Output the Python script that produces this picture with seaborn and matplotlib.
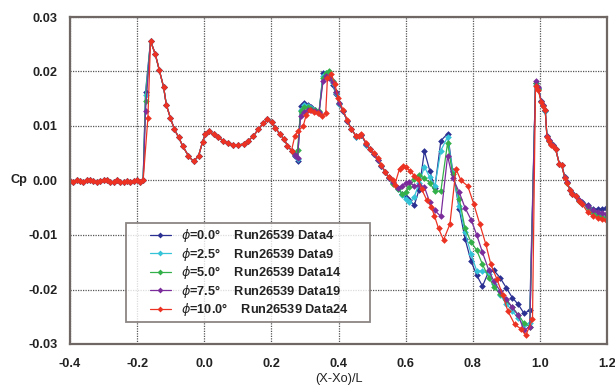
import matplotlib
matplotlib.use("Agg")
import matplotlib.pyplot as plt
import seaborn as sns
import pandas as pd
from matplotlib.lines import Line2D
from matplotlib.legend_handler import HandlerTuple
from matplotlib.ticker import FormatStrFormatter

# ---------------- data ----------------
series = [r"$\phi$=0.0°    Run26539 Data4",
          r"$\phi$=2.5°    Run26539 Data9",
          r"$\phi$=5.0°    Run26539 Data14",
          r"$\phi$=7.5°    Run26539 Data19",
          r"$\phi$=10.0°    Run26539 Data24"]
colors = ["#2b3192", "#35c3d8", "#33b04a", "#7b2d9b", "#ec3323"]

# flat front part (shared)
front_x = [-0.400, -0.390, -0.380, -0.370, -0.360, -0.350, -0.340, -0.330, -0.320, -0.310,
           -0.300, -0.290, -0.280, -0.270, -0.260, -0.250, -0.240, -0.230, -0.220, -0.210,
           -0.200, -0.190, -0.182]
front_y = [-0.0001, -0.0002, 0.0000, -0.0001, -0.0003, 0.0000, 0.0001, -0.0001, -0.0003, -0.0001,
           0.0001, 0.0000, -0.0002, -0.0002, 0.0001, -0.0003, -0.0002, -0.0001, -0.0002, -0.0001,
           0.0001, -0.0003, 0.0001]

# first point on the rise (per series)
rise_x = [-0.175, -0.175, -0.175, -0.175, -0.168]
rise_y = [0.0162, 0.0156, 0.0145, 0.0128, 0.0114]

# shared body
body_x = [-0.160, -0.146, -0.134, -0.121, -0.113, -0.101, -0.089, -0.076, -0.064, -0.047,
          -0.032, -0.017, -0.005, 0.003, 0.013, 0.028, 0.042, 0.057, 0.072, 0.087,
          0.102, 0.117, 0.131, 0.146, 0.161, 0.176, 0.188, 0.201, 0.212, 0.225,
          0.238, 0.248, 0.260]
body_y = [0.0256, 0.0232, 0.0203, 0.0171, 0.0139, 0.0115, 0.0094, 0.0079, 0.0063, 0.0045,
          0.0035, 0.0045, 0.0071, 0.0085, 0.0090, 0.0085, 0.0079, 0.0073, 0.0068, 0.0065,
          0.0065, 0.0067, 0.0073, 0.0081, 0.0094, 0.0105, 0.0112, 0.0107, 0.0097, 0.0085,
          0.0076, 0.0064, 0.0055]

# middle part, phi = 0 / 2.5 / 5 / 7.5 share x positions
mid_x = [0.270, 0.278, 0.287, 0.298, 0.308, 0.318, 0.330, 0.342, 0.354, 0.363,
         0.372, 0.383, 0.392, 0.402, 0.413, 0.426, 0.438, 0.453, 0.468, 0.483,
         0.493, 0.505, 0.517, 0.528, 0.539, 0.550, 0.562, 0.577, 0.590, 0.600,
         0.611, 0.626, 0.640, 0.656, 0.672, 0.687, 0.705, 0.725, 0.740, 0.760,
         0.777, 0.795, 0.812, 0.829, 0.848, 0.863, 0.881, 0.900, 0.918, 0.935,
         0.953, 0.970]
mid_y_0 = [0.0045, 0.0036, 0.0136, 0.0142, 0.0138, 0.0134, 0.0130, 0.0124, 0.0198, 0.0194,
           0.0190, 0.0176, 0.0158, 0.0140, 0.0128, 0.0110, 0.0095, 0.0080, 0.0084, 0.0066,
           0.0057, 0.0048, 0.0038, 0.0027, 0.0016, 0.0006, -0.0004, -0.0013, -0.0025, -0.0030,
           -0.0036, -0.0045, -0.0017, 0.0054, 0.0018, -0.0014, 0.0073, 0.0086, 0.0018, -0.0053,
           -0.0107, -0.0148, -0.0174, -0.0194, -0.0166, -0.0165, -0.0178, -0.0197, -0.0215, -0.0227,
           -0.0244, -0.0238]
mid_y_25 = [0.0046, 0.0039, 0.0130, 0.0139, 0.0136, 0.0133, 0.0130, 0.0125, 0.0192, 0.0197,
            0.0194, 0.0178, 0.0160, 0.0141, 0.0128, 0.0110, 0.0095, 0.0080, 0.0084, 0.0066,
            0.0057, 0.0048, 0.0038, 0.0027, 0.0016, 0.0005, -0.0005, -0.0015, -0.0027, -0.0034,
            -0.0040, -0.0030, -0.0005, 0.0025, 0.0006, -0.0010, 0.0055, 0.0080, 0.0016, -0.0047,
            -0.0095, -0.0135, -0.0166, -0.0166, -0.0172, -0.0190, -0.0210, -0.0226, -0.0240, -0.0252,
            -0.0266, -0.0262]
mid_y_5 = [0.0048, 0.0056, 0.0128, 0.0134, 0.0134, 0.0132, 0.0130, 0.0127, 0.0188, 0.0198,
           0.0200, 0.0182, 0.0162, 0.0142, 0.0128, 0.0110, 0.0095, 0.0081, 0.0084, 0.0067,
           0.0057, 0.0048, 0.0038, 0.0027, 0.0015, 0.0004, -0.0006, -0.0016, -0.0024, -0.0022,
           -0.0012, 0.0002, 0.0011, 0.0004, -0.0004, -0.0020, -0.0019, 0.0069, 0.0012, -0.0034,
           -0.0088, -0.0113, -0.0128, -0.0154, -0.0178, -0.0195, -0.0208, -0.0220, -0.0233, -0.0246,
           -0.0262, -0.0268]
mid_y_75 = [0.0047, 0.0042, 0.0118, 0.0126, 0.0130, 0.0130, 0.0128, 0.0125, 0.0182, 0.0191,
            0.0188, 0.0180, 0.0163, 0.0143, 0.0128, 0.0110, 0.0095, 0.0081, 0.0084, 0.0067,
            0.0057, 0.0048, 0.0038, 0.0027, 0.0016, 0.0005, -0.0003, -0.0014, -0.0010, -0.0004,
            -0.0003, -0.0010, -0.0009, -0.0012, -0.0040, -0.0055, -0.0066, 0.0045, 0.0005, -0.0022,
            -0.0050, -0.0072, -0.0100, -0.0132, -0.0165, -0.0185, -0.0202, -0.0218, -0.0233, -0.0247,
            -0.0275, -0.0268]

# middle part, phi = 10
mid_x_10 = [0.270, 0.280, 0.295, 0.304, 0.314, 0.326, 0.340, 0.352, 0.362, 0.367,
            0.379, 0.389, 0.399, 0.413, 0.426, 0.438, 0.453, 0.461, 0.468, 0.483,
            0.493, 0.505, 0.517, 0.528, 0.539, 0.550, 0.562, 0.567, 0.582, 0.591,
            0.601, 0.613, 0.626, 0.638, 0.648, 0.663, 0.676, 0.686, 0.698, 0.713,
            0.732, 0.750, 0.765, 0.785, 0.803, 0.821, 0.839, 0.854, 0.872, 0.889,
            0.905, 0.925, 0.943, 0.958, 0.978]
mid_y_10 = [0.0082, 0.0091, 0.0100, 0.0121, 0.0129, 0.0126, 0.0123, 0.0119, 0.0124, 0.0188,
            0.0195, 0.0177, 0.0152, 0.0130, 0.0111, 0.0094, 0.0081, 0.0082, 0.0085, 0.0068,
            0.0058, 0.0050, 0.0041, 0.0028, 0.0016, 0.0006, 0.0000, -0.0009, 0.0022, 0.0027,
            0.0024, 0.0018, 0.0009, 0.0002, -0.0016, -0.0036, -0.0048, -0.0065, -0.0088, -0.0109,
            -0.0080, 0.0021, 0.0000, -0.0010, -0.0043, -0.0080, -0.0117, -0.0154, -0.0181, -0.0210,
            -0.0240, -0.0264, -0.0272, -0.0284, -0.0255]

# rear part after the trailing-edge peak
tail_x = [0.987, 0.995, 1.004, 1.010, 1.016, 1.021, 1.026, 1.032, 1.040, 1.047,
          1.058, 1.065, 1.074, 1.081, 1.090, 1.097, 1.107, 1.117, 1.127, 1.142,
          1.157, 1.172, 1.184, 1.197]
tail_y_0 = [0.0179, 0.0170, 0.0146, 0.0138, 0.0128, 0.0082, 0.0074, 0.0068, 0.0065, 0.0058,
            0.0031, 0.0029, 0.0007, -0.0003, -0.0017, -0.0023, -0.0028, -0.0035, -0.0040, -0.0045,
            -0.0052, -0.0053, -0.0052, -0.0051]
tail_y_25 = [0.0176, 0.0168, 0.0145, 0.0137, 0.0128, 0.0081, 0.0073, 0.0067, 0.0065, 0.0057,
             0.0030, 0.0028, 0.0006, -0.0004, -0.0018, -0.0024, -0.0029, -0.0037, -0.0043, -0.0050,
             -0.0060, -0.0066, -0.0068, -0.0069]
tail_y_5 = [0.0178, 0.0168, 0.0146, 0.0138, 0.0129, 0.0082, 0.0073, 0.0067, 0.0065, 0.0058,
            0.0030, 0.0028, 0.0006, -0.0004, -0.0018, -0.0024, -0.0029, -0.0037, -0.0042, -0.0049,
            -0.0058, -0.0064, -0.0067, -0.0068]
tail_y_75 = [0.0182, 0.0172, 0.0145, 0.0139, 0.0130, 0.0082, 0.0074, 0.0067, 0.0065, 0.0058,
             0.0031, 0.0029, 0.0006, -0.0003, -0.0018, -0.0024, -0.0028, -0.0036, -0.0041, -0.0047,
             -0.0055, -0.0058, -0.0060, -0.0061]
tail_y_10 = [0.0174, 0.0166, 0.0144, 0.0136, 0.0130, 0.0080, 0.0072, 0.0066, 0.0064, 0.0057,
             0.0030, 0.0028, 0.0005, -0.0004, -0.0018, -0.0025, -0.0029, -0.0037, -0.0044, -0.0058,
             -0.0065, -0.0068, -0.0070, -0.0072]

x_ticks = [-0.4, -0.2, 0.0, 0.2, 0.4, 0.6, 0.8, 1.0, 1.2]
y_ticks = [-0.03, -0.02, -0.01, 0.00, 0.01, 0.02, 0.03]

# ---------------- assemble long table ----------------
mids_x = [mid_x, mid_x, mid_x, mid_x, mid_x_10]
mids_y = [mid_y_0, mid_y_25, mid_y_5, mid_y_75, mid_y_10]
tails_y = [tail_y_0, tail_y_25, tail_y_5, tail_y_75, tail_y_10]
rows = []
for k, name in enumerate(series):
    xs = front_x + [rise_x[k]] + body_x + mids_x[k] + tail_x
    ys = front_y + [rise_y[k]] + body_y + mids_y[k] + tails_y[k]
    assert len(xs) == len(ys), name
    for i, (xv, yv) in enumerate(zip(xs, ys)):
        rows.append({"series": name, "order": i, "x": xv, "cp": yv})
df = pd.DataFrame(rows)

# ---------------- plot ----------------
sns.set_style("white")
plt.rcParams["font.family"] = ["Liberation Sans", "DejaVu Sans"]
plt.rcParams["mathtext.fontset"] = "dejavusans"

fig = plt.figure(figsize=(6.15, 3.87), dpi=100)
fig.patch.set_facecolor("white")
ax = fig.add_axes([70 / 615, 1 - 344 / 387, 537 / 615, 327 / 387])

sns.lineplot(data=df, x="x", y="cp", hue="series", hue_order=series, palette=colors,
             sort=False, estimator=None, marker="D", markersize=3.4, markeredgewidth=0,
             linewidth=0.9, ax=ax, legend=False)

ax.set_xlim(-0.4, 1.2)
ax.set_ylim(-0.03, 0.03)
ax.set_xticks(x_ticks)
ax.set_yticks(y_ticks)
ax.xaxis.set_major_formatter(FormatStrFormatter("%.1f"))
ax.yaxis.set_major_formatter(FormatStrFormatter("%.2f"))
ax.tick_params(axis="both", length=0, labelsize=9.2)
ax.tick_params(axis="x", pad=10)
ax.tick_params(axis="y", pad=9)
for lab in ax.get_xticklabels() + ax.get_yticklabels():
    lab.set_fontweight("bold")
    lab.set_color("#222222")

ax.grid(True, linestyle=(0, (1, 1)), color="#555555", linewidth=0.9)
for sp in ax.spines.values():
    sp.set_color("#6e6764")
    sp.set_linewidth(1.6)

ax.set_xlabel("(X-Xo)/L", fontsize=9.2, color="#222222", labelpad=2)
ax.set_ylabel("Cp", fontsize=9.2, fontweight="bold", color="#222222", rotation=0,
              ha="center")
ax.yaxis.set_label_coords(-0.095, 0.5)
ax.yaxis.label.set_verticalalignment("center")

blank = Line2D([], [], color="none")
handles = [(blank, Line2D([], [], color=c, marker="D", markersize=3.0,
                          markeredgewidth=0, linewidth=0.9)) for c in colors]
leg = ax.legend(handles, series, loc="lower left",
                bbox_to_anchor=(0.104, 0.067, 0.454, 0.30), mode="expand",
                borderaxespad=0, frameon=True, fancybox=False,
                handlelength=3.2, handletextpad=0.8, labelspacing=0.12,
                borderpad=0.3, handler_map={tuple: HandlerTuple(ndivide=None, pad=0)},
                prop={"weight": "bold", "size": 9.2})
leg.get_frame().set_edgecolor("#6e6764")
leg.get_frame().set_linewidth(1.3)
for t in leg.get_texts():
    t.set_color("#222222")

fig.savefig("out.png", dpi=100, facecolor="white")
